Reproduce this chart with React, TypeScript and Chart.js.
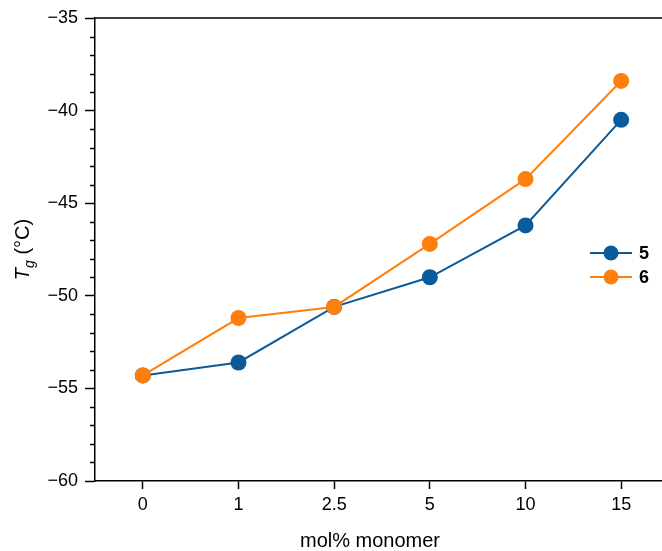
import React, { useEffect, useRef } from 'react';
import { Chart, registerables } from 'chart.js';

Chart.register(...registerables);

const categories = ['0', '1', '2.5', '5', '10', '15'];
const series5 = [-54.3, -53.6, -50.6, -49.0, -46.2, -40.5];
const series6 = [-54.3, -51.2, -50.6, -47.2, -43.7, -38.4];
const seriesNames = ['5', '6'];
const seriesColors = ['#0b5a9a', '#ff7f0e'];
const yMin = -60;
const yMax = -35;
const yMajorStep = 5;
const yMinorStep = 1;
const xTitle = 'mol% monomer';

const FONT = '"Liberation Sans", Arial, Helvetica, sans-serif';

const fmt = (v: number) => (v < 0 ? '\u2212' + Math.abs(v) : String(v));

const decorPlugin = {
  id: 'decor',
  afterDraw(chart: any) {
    const ctx = chart.ctx;
    const { left, right, top, bottom } = chart.chartArea;
    const ys = chart.scales.y;
    ctx.save();
    ctx.strokeStyle = '#000';
    ctx.lineWidth = 1.5;
    // minor ticks
    for (let v = yMin; v <= yMax + 1e-9; v += yMinorStep) {
      if (Math.abs(v % yMajorStep) < 1e-9) continue;
      const y = Math.round(ys.getPixelForValue(v)) + 0.5;
      ctx.beginPath();
      ctx.moveTo(left - 5, y);
      ctx.lineTo(left, y);
      ctx.stroke();
    }
    // top spine
    ctx.beginPath();
    ctx.moveTo(left, top);
    ctx.lineTo(right, top);
    ctx.stroke();

    // x title
    ctx.fillStyle = '#000';
    ctx.font = `20px ${FONT}`;
    ctx.textAlign = 'center';
    ctx.textBaseline = 'middle';
    ctx.fillText(xTitle, (left + right) / 2 - 12, 541);

    // y title
    ctx.save();
    ctx.translate(22, (top + bottom) / 2);
    ctx.rotate(-Math.PI / 2);
    ctx.textAlign = 'left';
    ctx.textBaseline = 'alphabetic';
    const fT = `italic 20px ${FONT}`;
    const fg = `italic 14px ${FONT}`;
    const fR = `20px ${FONT}`;
    ctx.font = fT;
    const wT = ctx.measureText('T').width;
    ctx.font = fg;
    const wg = ctx.measureText('g').width;
    ctx.font = fR;
    const wR = ctx.measureText(' (°C)').width;
    let x = -(wT + wg + wR) / 2;
    const base = 7;
    ctx.font = fT;
    ctx.fillText('T', x, base);
    x += wT;
    ctx.font = fg;
    ctx.fillText('g', x, base + 5);
    x += wg;
    ctx.font = fR;
    ctx.fillText(' (°C)', x, base);
    ctx.restore();

    // legend
    seriesNames.forEach((name, i) => {
      const yc = 253 + i * 24;
      const x0 = right - 79;
      ctx.strokeStyle = seriesColors[i];
      ctx.lineWidth = 2;
      ctx.beginPath();
      ctx.moveTo(x0, yc);
      ctx.lineTo(x0 + 42, yc);
      ctx.stroke();
      ctx.fillStyle = seriesColors[i];
      ctx.beginPath();
      ctx.arc(x0 + 21, yc, 7.5, 0, Math.PI * 2);
      ctx.fill();
      ctx.fillStyle = '#000';
      ctx.font = `bold 18px ${FONT}`;
      ctx.textAlign = 'left';
      ctx.textBaseline = 'middle';
      ctx.fillText(name, x0 + 49, yc + 1);
    });
    ctx.restore();
  },
};

export default function App() {
  const ref = useRef<HTMLCanvasElement>(null);
  useEffect(() => {
    if (!ref.current) return;
    const chart = new Chart(ref.current, {
      type: 'line',
      data: {
        labels: categories,
        datasets: [
          {
            label: seriesNames[0],
            data: series5,
            borderColor: seriesColors[0],
            backgroundColor: seriesColors[0],
            borderWidth: 2,
            pointRadius: 8,
            pointBorderWidth: 0,
            pointHoverRadius: 8,
            tension: 0,
            order: 1,
          },
          {
            label: seriesNames[1],
            data: series6,
            borderColor: seriesColors[1],
            backgroundColor: seriesColors[1],
            borderWidth: 2,
            pointRadius: 8,
            pointBorderWidth: 0,
            pointHoverRadius: 8,
            tension: 0,
            order: 0,
          },
        ],
      },
      options: {
        responsive: false,
        devicePixelRatio: 1,
        animation: false,
        layout: { padding: { top: 18, left: 0, right: 0, bottom: 0 } },
        plugins: { legend: { display: false }, tooltip: { enabled: false } },
        scales: {
          x: {
            type: 'category',
            offset: true,
            grid: {
              display: true,
              drawOnChartArea: false,
              drawTicks: true,
              tickLength: 8,
              tickWidth: 1.5,
              tickColor: '#000',
            },
            border: { display: true, color: '#000', width: 1.5 },
            ticks: {
              font: { family: FONT, size: 18 },
              color: '#000',
              padding: 5,
              maxRotation: 0,
              autoSkip: false,
            },
            afterFit: (s: any) => {
              s.height = 70;
            },
          },
          y: {
            min: yMin,
            max: yMax,
            grid: {
              display: true,
              drawOnChartArea: false,
              drawTicks: true,
              tickLength: 10,
              tickWidth: 1.5,
              tickColor: '#000',
            },
            border: { display: true, color: '#000', width: 1.5 },
            ticks: {
              stepSize: yMajorStep,
              font: { family: FONT, size: 18 },
              color: '#000',
              padding: 7,
              callback: (v: any) => fmt(Number(v)),
            },
            afterFit: (s: any) => {
              s.width = 95;
            },
          },
        },
      },
      plugins: [decorPlugin],
    } as any);
    return () => chart.destroy();
  }, []);
  return (
    <div
      style={{
        position: 'absolute',
        left: 0,
        top: 0,
        width: 662,
        height: 551,
        overflow: 'hidden',
        background: '#fff',
      }}
    >
      <canvas ref={ref} width={677} height={551} style={{ display: 'block' }} />
    </div>
  );
}
